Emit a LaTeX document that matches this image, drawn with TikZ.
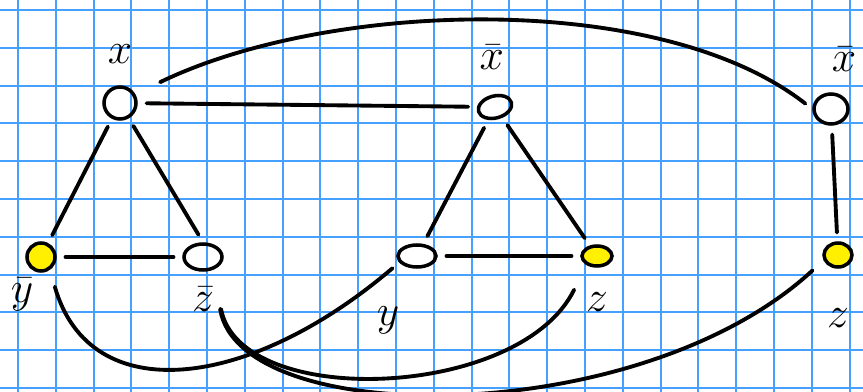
\documentclass[tikz,border=0pt]{standalone}
\usepackage{amsmath,amssymb}
\usetikzlibrary{positioning,shapes.geometric}
\definecolor{gridblue}{RGB}{70,160,255}
\definecolor{hilite}{RGB}{255,240,0}

\begin{document}
\begin{tikzpicture}[x=0.02cm, y=-0.02cm,
    vtx/.style={ellipse, draw=black, line width=2pt, inner sep=0pt},
    lit/.style={vtx, fill=hilite},
    lbl/.style={font=\Huge, inner sep=0pt},
    link/.style={line width=2.2pt, line cap=round, shorten <=5pt, shorten >=5pt},
    gridline/.style={gridblue, line width=1.1pt},
]

\useasboundingbox (0,0) rectangle (863,392);

% squared paper
\fill[white] (0,0) rectangle (863,392);
\foreach \i in {0,...,22}
    \draw[gridline] (18+37.8*\i,0) -- ++(0,392);
\foreach \j in {0,...,10}
    \draw[gridline] (0,10+37.8*\j) -- ++(863,0);

% first triangle: x, ybar, zbar
\node[vtx, minimum width=6.4mm, minimum height=6.4mm] (x) at (120,103) {};
\node[lbl, above=0.42cm of x] (xlab) {$x$};
\node[lit, minimum width=5.6mm, minimum height=5.6mm] (ybar) at (41,257) {};
\node[lbl, below=0.1cm of ybar, xshift=-0.38cm] (ybarlab) {$\bar{y}$};
\node[vtx, minimum width=7.6mm, minimum height=5.2mm] (zbar) at (203,257) {};
\node[lbl, below=0.3cm of zbar] (zbarlab) {$\bar{z}$};

% second triangle: xbar, y, z
\node[vtx, rotate=15, minimum width=6.8mm, minimum height=4.4mm] (xbar) at (495,107) {};
\node[lbl, above=0.5cm of xbar] (xbarlab) {$\bar{x}$};
\node[vtx, minimum width=7.6mm, minimum height=4.4mm] (y) at (417,256) {};
\node[lbl, below=0.76cm of y, xshift=-0.58cm] (ylab) {$y$};
\node[lit, minimum width=6mm, minimum height=4mm] (z) at (597,256) {};
\node[lbl, below=0.5cm of z] (zlab) {$z$};

% right pair: xbar, z
\node[vtx, minimum width=6.8mm, minimum height=6mm] (xbarR) at (831,109) {};
\node[lbl, above=0.4cm of xbarR, xshift=0.26cm] (xbarRlab) {$\bar{x}$};
\node[lit, minimum width=5.6mm, minimum height=4.8mm] (zR) at (838,255) {};
\node[lbl, below=0.8cm of zR] (zRlab) {$z$};

\draw[link] (x) -- (xbar);
\draw[link] (x) -- (ybar);
\draw[link] (x.-60) -- (zbar.north);
\draw[link] (ybar) -- (zbar);
\draw[link] (xbar) -- (y);
\draw[link] (xbar) -- (z);
\draw[link] (y) -- (z);
\draw[link] (xbarR) -- (zR);

% long arcs
\draw[link, shorten <=0.55cm] (x.30) .. controls (330,0) and (660,-10) .. (xbarR.west);
\draw[link, shorten <=0.35cm] (ybar.-55) .. controls (90,410) and (250,390) .. (y.-160);
\draw[link, shorten <=0.8cm, shorten >=0.55cm] (zbar.-50) .. controls (240,410) and (520,400) .. (z.-140);
\draw[link, shorten <=0.8cm, shorten >=0.3cm] (zbar.-50) .. controls (240,430) and (640,430) .. (zR.200);

\end{tikzpicture}
\end{document}
